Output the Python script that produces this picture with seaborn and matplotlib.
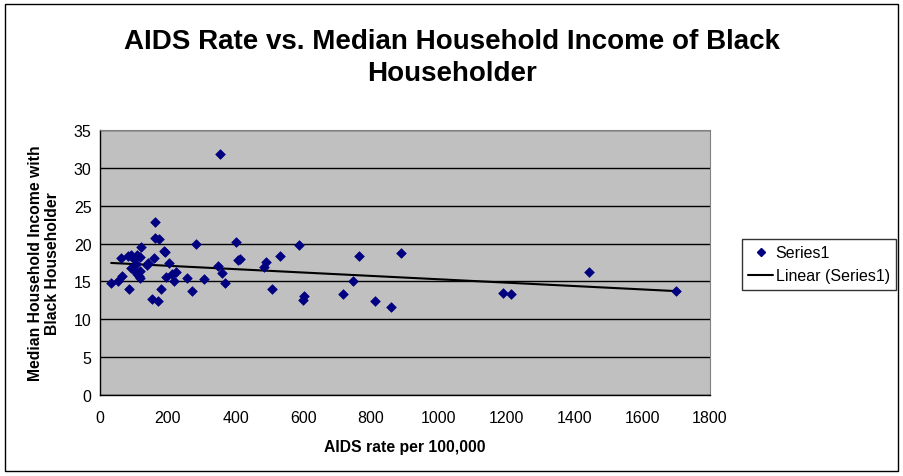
import numpy as np
import pandas as pd
import seaborn as sns
import matplotlib.pyplot as plt
from matplotlib.patches import Rectangle
from matplotlib.lines import Line2D

# AIDS rate per 100,000 vs median household income (black householder), $1000s
aids_rate = [355, 161, 161, 175, 122, 282, 400, 588, 188, 191,
             63, 84, 90, 110, 119, 101, 158, 143, 140, 205,
             107, 347, 406, 412, 489, 483, 530, 90, 104, 119,
             110, 116, 119, 66, 54, 33, 87, 196, 211, 223,
             217, 258, 308, 359, 370, 181, 270, 152, 172, 509,
             764, 888, 746, 716, 601, 598, 811, 858, 1189, 1213,
             1443, 1699]
income = [31.8, 22.8, 20.7, 20.6, 19.6, 19.9, 20.2, 19.8, 19.0, 18.9,
          18.1, 18.4, 18.5, 18.5, 18.2, 18.0, 18.1, 17.4, 17.2, 17.4,
          17.3, 17.1, 17.8, 18.0, 17.6, 16.9, 18.3, 16.8, 16.4, 16.4,
          16.0, 15.7, 15.4, 15.7, 15.1, 14.8, 14.0, 15.6, 16.0, 16.2,
          15.1, 15.4, 15.3, 16.1, 14.8, 14.0, 13.8, 12.7, 12.4, 14.0,
          18.3, 18.7, 15.0, 13.4, 13.1, 12.6, 12.4, 11.6, 13.5, 13.4,
          16.2, 13.8]

x_ticks = np.arange(0, 1801, 200)
y_ticks = np.arange(0, 36, 5)
legend_labels = ['Series1', 'Linear (Series1)']

df = pd.DataFrame({'rate': aids_rate, 'income': income})

sns.set_style('white', {'text.color': 'black', 'axes.labelcolor': 'black',
                        'xtick.color': 'black', 'ytick.color': 'black'})
plt.rcParams['font.family'] = ['Liberation Sans', 'DejaVu Sans']

fig = plt.figure(figsize=(9.04, 4.77), dpi=100)
ax = fig.add_axes([100 / 904, 1 - 396 / 477, 610 / 904, 265 / 477])
ax.set_facecolor('#C0C0C0')

sns.scatterplot(data=df, x='rate', y='income', marker='D', s=24,
                color='#000080', edgecolor='#000080', linewidth=0.5,
                ax=ax, zorder=3, legend=False)

# linear trendline over the data range
slope, icpt = np.polyfit(df['rate'], df['income'], 1)
xs = np.array([df['rate'].min(), df['rate'].max()])
ax.plot(xs, slope * xs + icpt, color='black', linewidth=1.5, zorder=2)

ax.set_xlim(0, 1800)
ax.set_ylim(0, 35)
ax.set_xticks(x_ticks)
ax.set_yticks(y_ticks)
ax.tick_params(axis='both', labelsize=11.5, direction='out', length=4,
               width=1, color='black', labelcolor='black', pad=2)
ax.tick_params(axis='x', pad=7)
ax.grid(axis='y', color='black', linewidth=1)
ax.set_axisbelow(True)
for side in ['top', 'right']:
    ax.spines[side].set_color('#808080')
for side in ['left', 'bottom']:
    ax.spines[side].set_color('black')
    ax.spines[side].set_linewidth(1)

ax.set_xlabel('AIDS rate per 100,000', fontsize=11.3, fontweight='bold',
              labelpad=10, color='black')
ax.set_ylabel('Median Household Income with\nBlack Householder', fontsize=11.3,
              fontweight='bold', labelpad=10, linespacing=1.15, color='black')

fig.text(452 / 904, 1 - 58 / 477,
         'AIDS Rate vs. Median Household Income of Black\nHouseholder',
         ha='center', va='center', fontsize=20, fontweight='bold',
         linespacing=1.3, color='black')

handles = [Line2D([], [], marker='D', linestyle='none', color='#000080', markersize=4),
           Line2D([], [], color='black', linewidth=1.5)]
leg = fig.legend(handles, legend_labels, loc='upper left',
                 bbox_to_anchor=(742 / 904, 1 - 240 / 477), fontsize=11.5,
                 frameon=True, fancybox=False, edgecolor='black',
                 borderpad=0.4, handlelength=1.55, handletextpad=0.15,
                 labelspacing=0.5, borderaxespad=0)
leg.get_frame().set_linewidth(1)
for t in leg.get_texts():
    t.set_color('black')

fig.patches.append(Rectangle((5 / 904, 5 / 477), 893 / 904, 467 / 477,
                             transform=fig.transFigure, fill=False,
                             edgecolor='black', linewidth=1))

fig.savefig('out.png', dpi=100, facecolor='white')
